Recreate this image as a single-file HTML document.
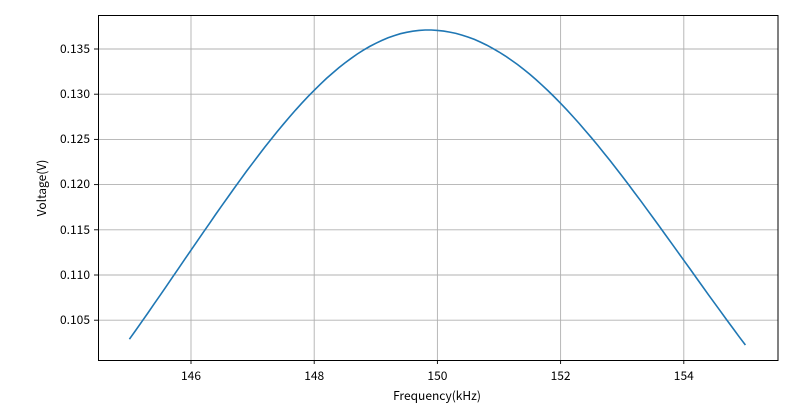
<!DOCTYPE html>
<html><head><meta charset="utf-8"><style>
body{margin:0;background:#fff}
svg text{font-family:"Noto Sans CJK SC","WenQuanYi Zen Hei",sans-serif;font-size:12px;fill:#000}
</style></head><body>
<svg width="800" height="409" xmlns="http://www.w3.org/2000/svg">
<g stroke="#b0b0b0" stroke-width="0.9">
<line x1="191" y1="15" x2="191" y2="360"/><line x1="314.2" y1="15" x2="314.2" y2="360"/><line x1="437.4" y1="15" x2="437.4" y2="360"/><line x1="560.6" y1="15" x2="560.6" y2="360"/><line x1="683.8" y1="15" x2="683.8" y2="360"/>
<line x1="98" y1="49" x2="778" y2="49"/><line x1="98" y1="94.2" x2="778" y2="94.2"/><line x1="98" y1="139.4" x2="778" y2="139.4"/><line x1="98" y1="184.6" x2="778" y2="184.6"/><line x1="98" y1="229.8" x2="778" y2="229.8"/><line x1="98" y1="275" x2="778" y2="275"/><line x1="98" y1="320.2" x2="778" y2="320.2"/>
</g>
<g stroke="#000" stroke-width="0.9">
<line x1="191" y1="360" x2="191" y2="364"/><line x1="314.2" y1="360" x2="314.2" y2="364"/><line x1="437.4" y1="360" x2="437.4" y2="364"/><line x1="560.6" y1="360" x2="560.6" y2="364"/><line x1="683.8" y1="360" x2="683.8" y2="364"/>
<line x1="94" y1="49" x2="98" y2="49"/><line x1="94" y1="94.2" x2="98" y2="94.2"/><line x1="94" y1="139.4" x2="98" y2="139.4"/><line x1="94" y1="184.6" x2="98" y2="184.6"/><line x1="94" y1="229.8" x2="98" y2="229.8"/><line x1="94" y1="275" x2="98" y2="275"/><line x1="94" y1="320.2" x2="98" y2="320.2"/>
</g>
<path id="c" fill="none" stroke="#1f77b4" stroke-width="1.6"/>
<rect x="98.5" y="15.5" width="679.5" height="345" fill="none" stroke="#000" stroke-width="1"/>
<g text-anchor="middle">
<text x="191" y="380">146</text><text x="314.2" y="380">148</text><text x="437.4" y="380">150</text><text x="560.6" y="380">152</text><text x="683.8" y="380">154</text>
<text x="437" y="400">Frequency(kHz)</text>
</g>
<g text-anchor="end">
<text x="90" y="53">0.135</text><text x="90" y="98">0.130</text><text x="90" y="143">0.125</text><text x="90" y="188">0.120</text><text x="90" y="234">0.115</text><text x="90" y="279">0.110</text><text x="90" y="324">0.105</text>
</g>
<text transform="translate(46,188) rotate(-90)" text-anchor="middle">Voltage(V)</text>
<script>
var d="";for(var i=0;i<=100;i++){var f=145+i*0.1,dd=f-149.85,s2=dd<0?32:35.1;var y=624-594*Math.exp(-dd*dd/s2);var x=129.4+(f-145)*61.6;d+=(i?"L":"M")+x.toFixed(1)+","+y.toFixed(1);}
document.getElementById("c").setAttribute("d",d);
</script>
</svg>
</body></html>
